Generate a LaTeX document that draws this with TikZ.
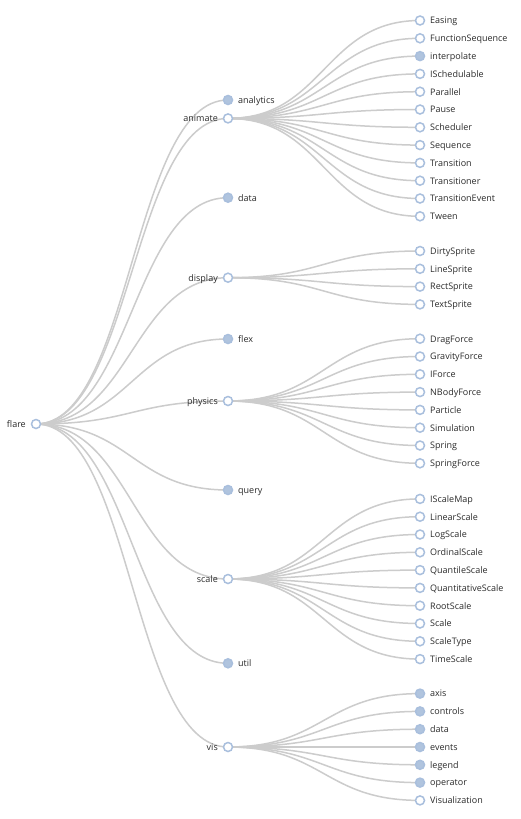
\documentclass[tikz,border=0pt]{standalone}
\usepackage{fontspec}
\setmainfont{Open Sans}
\usetikzlibrary{calc,backgrounds}
\definecolor{linkc}{HTML}{CCCCCC}
\definecolor{nodeb}{HTML}{A9BFDD}
\definecolor{nodef}{HTML}{B0C4DE}
\definecolor{txt}{HTML}{2B2B2B}
\newcommand\lblfont{\fontsize{9}{10}\selectfont}
\tikzset{
  opennode/.style={circle, draw=nodeb, fill=white, line width=1.5pt, minimum size=9pt, inner sep=0pt, outer sep=0pt},
  shutnode/.style={opennode, fill=nodef},
  lr/.style={anchor=base west, inner sep=0pt, text=txt, font=\lblfont},
  ll/.style={anchor=base east, inner sep=0pt, text=txt, font=\lblfont},
  link/.style={draw=linkc, line width=1.5pt},
}
\newcommand\kids[4]{%
  \foreach \nm/\st/\tx [count=\i] in {#4} {
    \node[\st] (\nm) at (420,{#2+(\i-1-(#3-1)/2)*17.8}) {};
    \node[lr] (\nm-t) at ($(\nm)+(10,3.3)$) {\tx};
    \begin{pgfonlayer}{background}
      \draw[link] (#1.center) .. controls +(96,0) and +(-96,0) .. (\nm.center);
    \end{pgfonlayer}
  }}
\begin{document}
\begin{tikzpicture}[x=1pt,y=-1pt]
\useasboundingbox (0,0) rectangle (521,819);
\begin{pgfonlayer}{background}
\fill[white] (0,0) rectangle (521,819);
\end{pgfonlayer}
% root
\node[opennode] (flare) at (36,424) {};
\node[ll] (flare-t) at ($(flare)+(-10,3.3)$) {flare};
% level 1
\foreach \nm/\y/\st/\tx/\side in {
  analytics/100/shutnode/analytics/r,
  animate/118.4/opennode/animate/l,
  data/197.7/shutnode/data/r,
  display/277.7/opennode/display/l,
  flex/339/shutnode/flex/r,
  physics/401/opennode/physics/l,
  query/490/shutnode/query/r,
  scale/579/opennode/scale/l,
  util/663.3/shutnode/util/r,
  vis/747/opennode/vis/l} {
  \node[\st] (\nm) at (228,\y) {};
  \if\side r
    \node[lr] (\nm-t) at ($(\nm)+(10,3.3)$) {\tx};
  \else
    \node[ll] (\nm-t) at ($(\nm)+(-10,3.3)$) {\tx};
  \fi
  \begin{pgfonlayer}{background}
    \draw[link] (flare.center) .. controls +(96,0) and +(-96,0) .. (\nm.center);
  \end{pgfonlayer}
}
% level 2
\kids{animate}{118.4}{12}{a1/opennode/Easing, a2/opennode/FunctionSequence, a3/shutnode/interpolate, a4/opennode/ISchedulable, a5/opennode/Parallel, a6/opennode/Pause, a7/opennode/Scheduler, a8/opennode/Sequence, a9/opennode/Transition, a10/opennode/Transitioner, a11/opennode/TransitionEvent, a12/opennode/Tween}
\kids{display}{277.7}{4}{d1/opennode/DirtySprite, d2/opennode/LineSprite, d3/opennode/RectSprite, d4/opennode/TextSprite}
\kids{physics}{401}{8}{p1/opennode/DragForce, p2/opennode/GravityForce, p3/opennode/IForce, p4/opennode/NBodyForce, p5/opennode/Particle, p6/opennode/Simulation, p7/opennode/Spring, p8/opennode/SpringForce}
\kids{scale}{579}{10}{s1/opennode/IScaleMap, s2/opennode/LinearScale, s3/opennode/LogScale, s4/opennode/OrdinalScale, s5/opennode/QuantileScale, s6/opennode/QuantitativeScale, s7/opennode/RootScale, s8/opennode/Scale, s9/opennode/ScaleType, s10/opennode/TimeScale}
\kids{vis}{747}{7}{v1/shutnode/axis, v2/shutnode/controls, v3/shutnode/data, v4/shutnode/events, v5/shutnode/legend, v6/shutnode/operator, v7/opennode/Visualization}
\end{tikzpicture}
\end{document}
